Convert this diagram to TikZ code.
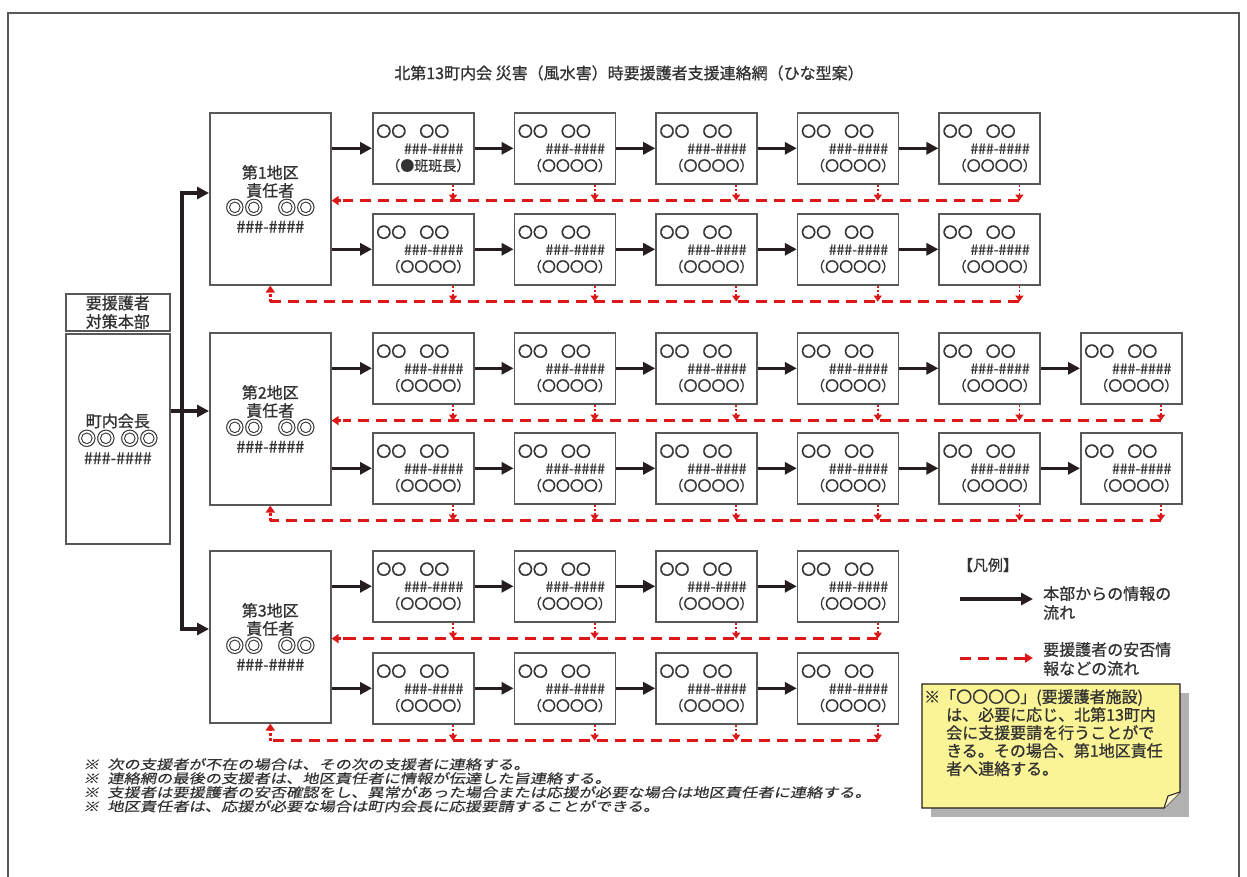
\documentclass[tikz,border=0pt]{standalone}
\usepackage{fontspec}
\setmainfont{Noto Sans CJK JP}[FakeBold=0.8]
\newfontfamily\notefont{Noto Sans CJK JP}[FakeSlant=0.2,FakeStretch=1.25,FakeBold=0.5]
\usepackage{xcolor}
\usepackage{tikz}
\usetikzlibrary{arrows.meta, positioning, calc}
\definecolor{myred}{RGB}{222,24,24}
\definecolor{mydark}{RGB}{38,30,30}
\definecolor{mygray}{RGB}{88,88,88}
\definecolor{mytext}{RGB}{50,50,50}
\definecolor{noteyellow}{RGB}{250,244,150}
\definecolor{notefold}{RGB}{253,250,205}
\definecolor{shadowgray}{RGB}{178,178,178}
\tikzset{
  distbox/.style={rectangle, draw=mygray, line width=1.6pt, text=mytext,
    minimum width=121, minimum height=172, align=center, inner sep=0pt,
    anchor=north west, font=\fontsize{16}{18}\selectfont},
  membox/.style={rectangle, draw=mygray, line width=1.6pt, text=mytext,
    minimum width=101, minimum height=71, inner sep=0pt, anchor=north west},
  hqbox/.style={rectangle, draw=mygray, line width=1.6pt, text=mytext,
    minimum width=104, align=center, inner sep=0pt, anchor=north west,
    font=\fontsize{16}{18.5}\selectfont},
  flow/.style={-{Triangle[length=12pt,width=12pt]}, line width=3.5pt, color=mydark},
  ret/.style={dash pattern=on 11pt off 7pt, line width=3pt, color=myred},
  retend/.style={-{Triangle[length=7pt,width=9pt]}, dash pattern=on 2.5pt off 2.5pt,
    line width=2.6pt, color=myred},
  drop/.style={-{Triangle[length=6pt,width=8pt]}, dash pattern=on 2pt off 2pt,
    line width=1.8pt, color=myred},
  legendtext/.style={font=\fontsize{16}{19}\selectfont, align=left, anchor=west,
    inner sep=0pt, text=mytext}
}
\newcommand{\dbl}{{\fontsize{19}{18}\selectfont ◎◎}}
\newcommand{\memtext}[1]{\parbox{94pt}{\fontsize{15}{17}\selectfont 〇〇\hspace{13pt}〇〇\par
  \fontsize{14}{17}\selectfont\hfill\#\#\#-\#\#\#\#\hspace*{7pt}\par
  \fontsize{14}{17}\selectfont\hfill #1}}
\def\chiefmark{1a1}
\def\rowa{a}

\begin{document}
\begin{tikzpicture}[x=1pt, y=-1pt]
  \useasboundingbox (0,0) rectangle (1247,877);
  \fill[white] (0,0) rectangle (1247,877);
  % Outer frame
  \draw[mygray, line width=1.2pt] (8,877) -- (8,13) -- (1239,13) -- (1239,877);
  % Title
  \node[font=\fontsize{16}{19}\selectfont, text=mytext] (title) at (629,73)
    {北第13町内会 災害（風水害）時要援護者支援連絡網（ひな型案）};
  % Headquarters
  \node[hqbox, minimum height=37] (hqhead) at (65,293) {要援護者\\対策本部};
  \node[hqbox, minimum height=210] (hqbody) at (65,333) {町内会長\\\dbl\hspace{5pt}\dbl\\\#\#\#-\#\#\#\#};
  % District leaders
  \node[distbox] (d1) at (209,112) {第1地区\\責任者\\\dbl\hspace{14pt}\dbl\\\#\#\#-\#\#\#\#};
  \node[distbox] (d2) at (209,332) {第2地区\\責任者\\\dbl\hspace{14pt}\dbl\\\#\#\#-\#\#\#\#};
  \node[distbox] (d3) at (209,550) {第3地区\\責任者\\\dbl\hspace{14pt}\dbl\\\#\#\#-\#\#\#\#};
  % Trunk from HQ
  \coordinate (tt) at (182,193);
  \coordinate (tb) at (182,629);
  \coordinate (tm) at (182,411);
  \draw[flow] (tb) -- (tt) -- (tt -| d1.west);
  \draw[flow] (tt) -- (tb) -- (tb -| d3.west);
  \draw[flow] (hqbody.east |- tm) -- (tm -| d2.west);
  % Supporter rows
  \foreach \dist/\row/\ytop/\cnt in {1/a/112/5, 1/b/213/5, 2/a/332/6, 2/b/432/6, 3/a/550/4, 3/b/652/4}{
    \foreach \i in {1,...,\cnt}{
      \edef\tag{\dist\row\i}
      \ifx\tag\chiefmark \def\third{（●班班長）}\else\def\third{（〇〇〇〇）}\fi
      \node[membox] (m\dist\row\i) at ({372+141.6*(\i-1)},\ytop) {\memtext{\third}};
      \ifnum\i=1
        \draw[flow] (d\dist.east |- m\dist\row\i.west) -- (m\dist\row\i.west);
      \else
        \pgfmathtruncatemacro\prev{\i-1}
        \draw[flow] (m\dist\row\prev.east) -- (m\dist\row\i.west);
      \fi
      \coordinate (r\dist\row\i) at ($(m\dist\row\i.south west)+(81,16)$);
      \draw[drop] ($(m\dist\row\i.south west)+(81,0)$) -- (r\dist\row\i);
    }
    % return line to district leader
    \edef\kind{\row}
    \ifx\kind\rowa
      \draw[ret] (r\dist\row\cnt) -- ($(d\dist.east |- r\dist\row\cnt)+(14,0)$);
      \draw[retend] ($(d\dist.east |- r\dist\row\cnt)+(14,0)$) -- (d\dist.east |- r\dist\row\cnt);
    \else
      \draw[ret] (r\dist\row\cnt) -- (d\dist.south |- r\dist\row\cnt);
      \draw[retend] (d\dist.south |- r\dist\row\cnt) -- (d\dist.south);
    \fi
  }
  % Legend
  \node[font=\fontsize{15}{18}\selectfont, text=mytext] (lgtitle) at (988,565) {【凡例】};
  \coordinate (lg1a) at (960,599);
  \coordinate (lg1b) at (1033,599);
  \draw[flow] (lg1a) -- (lg1b);
  \node[legendtext] (lgtext1) at (1043,603) {本部からの情報の\\流れ};
  \coordinate (lg2a) at (960,658);
  \coordinate (lg2b) at (1033,658);
  \draw[ret, -{Triangle[length=8pt,width=9pt]}] (lg2a) -- (lg2b);
  \node[legendtext] (lgtext2) at (1043,659) {要援護者の安否情\\報などの流れ};
  % Note card with shadow
  \fill[shadowgray] (931,693) rectangle (1189,817);
  \filldraw[fill=noteyellow, draw=mydark, line width=1.2pt]
    (922,684) -- (1180,684) -- (1180,792) -- (1164,808) -- (922,808) -- cycle;
  \filldraw[fill=notefold, draw=mydark, line width=1pt]
    (1164,808) -- (1168,796) -- (1180,792);
  \node[anchor=north west, align=left, inner sep=0pt, text=mytext,
    font=\fontsize{16}{18}\selectfont] (note) at (924,689)
    {※「〇〇〇〇」(要援護者施設)\\\hspace*{22pt}は、必要に応じ、北第13町内\\\hspace*{22pt}会に支援要請を行うことがで\\\hspace*{22pt}きる。その場合、第1地区責任\\\hspace*{22pt}者へ連絡する。};
  % Footnotes
  \node[anchor=north west, align=left, inner sep=0pt, text=mytext,
    font=\notefont\fontsize{13}{14}\selectfont] (notes) at (83,758)
    {※\hspace{8pt}次の支援者が不在の場合は、その次の支援者に連絡する。\\
     ※\hspace{8pt}連絡網の最後の支援者は、地区責任者に情報が伝達した旨連絡する。\\
     ※\hspace{8pt}支援者は要援護者の安否確認をし、異常があった場合または応援が必要な場合は地区責任者に連絡する。\\
     ※\hspace{8pt}地区責任者は、応援が必要な場合は町内会長に応援要請することができる。};
\end{tikzpicture}
\end{document}
